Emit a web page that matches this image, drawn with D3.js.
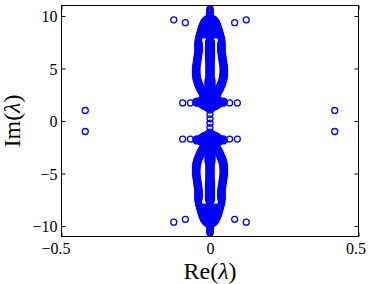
<!DOCTYPE html>
<html>
<head>
<meta charset="utf-8">
<script src="https://cdn.jsdelivr.net/npm/d3@7"></script>
<style>
  body { margin: 0; background: #fff; }
  svg text { font-family: "Liberation Serif", "DejaVu Serif", serif; fill: #000; }
</style>
</head>
<body>
<figure id="spectrum" style="margin:0"></figure>
<script>
// eigenvalues, upper right quadrant only (spectrum is symmetric in Re and Im)
// central spine, two interleaved rows
const spineAIm = [10.7, 10.5, 10.3, 10.1, 9.9, 9.7, 9.5, 9.3, 9.1, 8.9, 8.7, 8.5, 8.3, 8.1, 7.9, 7.7, 7.5, 7.3, 7.1, 6.9, 6.7, 6.5, 6.3, 6.1, 5.9, 5.7, 5.5, 5.3, 5.1, 4.9, 4.7, 4.5, 4.3, 4.1, 3.9, 3.7, 3.5, 3.3, 3.1, 2.9, 2.7, 2.5, 2.3]
const spineARe = [0, 0, 0, 0, 0, 0, 0, 0, 0, 0, 0, 0, 0, 0, 0, 0, 0.005, 0.005, 0.005, 0.005, 0.005, 0.005, 0.005, 0.005, 0.005, 0.003, 0.003, 0.003, 0.003, 0.003, 0.003, 0.003, 0.003, 0.003, 0.006, 0.006, 0.006, 0.006, 0.006, 0.006, 0.006, 0.006, 0.006]
const spineBIm = [10.6, 10.4, 10.2, 10.0, 9.8, 9.6, 9.4, 9.2, 9.0, 8.8, 8.6, 8.4, 8.2, 8.0, 7.8, 7.6, 7.4, 7.2, 7.0, 6.8, 6.6, 6.4, 6.2, 6.0, 5.8, 5.6, 5.4, 5.2, 5.0, 4.8, 4.6, 4.4, 4.2, 4.0, 3.8, 3.6, 3.4, 3.2, 3.0, 2.8, 2.6, 2.4, 2.2]
const spineBRe = [0, 0, 0, 0, 0, 0, 0, 0, 0, 0, 0, 0, 0, 0, 0, 0, 0.005, 0.005, 0.005, 0.005, 0.005, 0.005, 0.005, 0.005, 0.004, 0.003, 0.003, 0.003, 0.003, 0.003, 0.003, 0.003, 0.003, 0.004, 0.006, 0.006, 0.006, 0.006, 0.006, 0.006, 0.006, 0.006, 0.004]

// outer branch from the bulb down to the strip (outer and inner row)
const sideAIm = [9.8, 9.6, 9.4, 9.2, 9.0, 8.8, 8.6, 8.4, 8.2, 8.0, 7.8, 7.6, 7.4, 7.2, 7.0, 6.8, 6.6, 6.4, 6.2, 6.0, 5.8, 5.6, 5.4, 5.2, 5.0, 4.8, 4.6, 4.4, 4.2, 4.0, 3.8, 3.6, 3.4, 3.2, 3.0, 2.8, 2.6, 2.4, 2.2]
const sideARe = [0.006, 0.016, 0.021, 0.024, 0.027, 0.029, 0.031, 0.033, 0.035, 0.037, 0.039, 0.040, 0.041, 0.041, 0.041, 0.041, 0.041, 0.042, 0.043, 0.044, 0.045, 0.046, 0.047, 0.048, 0.049, 0.049, 0.049, 0.049, 0.048, 0.047, 0.045, 0.043, 0.040, 0.037, 0.034, 0.030, 0.026, 0.023, 0.021]
const sideBIm = [9.7, 9.5, 9.3, 9.1, 8.9, 8.7, 8.5, 8.3, 8.1, 7.9, 7.7, 7.5, 7.3, 7.1, 6.9, 6.7, 6.5, 6.3, 6.1, 5.9, 5.7, 5.5, 5.3, 5.1, 4.9, 4.7, 4.5, 4.3, 4.1, 3.9, 3.7, 3.5, 3.3, 3.1, 2.9, 2.7, 2.5, 2.3]
const sideBRe = [0.012, 0.018, 0.022, 0.025, 0.028, 0.030, 0.032, 0.034, 0.036, 0.038, 0.039, 0.038, 0.036, 0.036, 0.036, 0.036, 0.037, 0.038, 0.039, 0.040, 0.041, 0.042, 0.043, 0.044, 0.044, 0.044, 0.044, 0.043, 0.042, 0.040, 0.038, 0.035, 0.032, 0.029, 0.026, 0.023, 0.020, 0.018]

// inner fill of the bulb
const bulbIm = [9.6, 9.5, 9.4, 9.3, 9.2, 9.1, 9.0, 8.9, 8.8, 8.7, 8.6, 8.5, 8.4, 8.3, 8.2]
const bulbRe = [0.008, 0.010, 0.012, 0.013, 0.014, 0.015, 0.015, 0.016, 0.016, 0.017, 0.017, 0.018, 0.018, 0.018, 0.018]

// strip near Im ~ 1.8 and the neck across the real axis
const stripIm = [2.2, 2.2, 2.2, 2.1, 2.1, 2.1, 2.0, 2.0, 2.0, 2.0, 1.9, 1.9, 1.9, 1.9, 1.9, 1.8, 1.8, 1.8, 1.8, 1.8, 1.8, 1.7, 1.7, 1.7, 1.7, 1.7, 1.6, 1.6, 1.6, 1.6, 1.5, 1.5, 1.5, 1.4, 1.4, 1.4, 1.3, 1.3, 1.2, 1.2, 1.05, 0.63, 0.21]
const stripRe = [0, 0.01, 0.02, 0.005, 0.015, 0.025, 0, 0.01, 0.02, 0.03, 0.005, 0.015, 0.025, 0.035, 0.045, 0, 0.01, 0.02, 0.03, 0.04, 0.048, 0.005, 0.015, 0.025, 0.035, 0.044, 0, 0.01, 0.02, 0.03, 0.005, 0.015, 0.025, 0, 0.01, 0.02, 0.005, 0.012, 0, 0.006, 0, 0, 0]

// isolated eigenvalues
const looseRe = [0.42, 0.122, 0.083, 0.092, 0.066]
const looseIm = [1.0, 9.64, 9.36, 1.72, 1.72]

const xTicks = [-0.5, 0, 0.5]
const yTicks = [-10, -5, 0, 5, 10]

let margin = {top: 5.5, right: 15.5, bottom: 47.5, left: 61.5}
let W = 374, H = 284
let width = W - margin.left - margin.right
let height = H - margin.top - margin.bottom

let x = d3.scaleLinear().domain([-0.5, 0.5]).range([0, width])
let y = d3.scaleLinear().domain([-11, 11]).range([height, 0])

// build the four symmetric copies
let pts = []
function addQuad(re, im) {
  for (let i = 0; i < re.length; i++) {
    let sr = re[i] === 0 ? [1] : [1, -1]
    for (let s of sr) {
      pts.push([s * re[i], im[i]])
      pts.push([s * re[i], -im[i]])
    }
  }
}
addQuad(spineARe, spineAIm)
addQuad(spineBRe, spineBIm)
addQuad(sideARe, sideAIm)
addQuad(sideBRe, sideBIm)
addQuad(bulbRe, bulbIm)
addQuad(stripRe, stripIm)
addQuad(looseRe, looseIm)

let svg = d3.select("figure#spectrum")
  .append("svg")
  .attr("width", W)
  .attr("height", H)

let g = svg.append("g")
  .attr("transform", `translate(${margin.left},${margin.top})`)

g.append("g")
  .selectAll("circle")
  .data(pts)
  .join("circle")
    .attr("cx", d => x(d[0]))
    .attr("cy", d => y(d[1]))
    .attr("r", 3)
    .attr("fill", "none")
    .attr("stroke", "#0000ff")
    .attr("stroke-width", 1.3)

// axes, ticks pointing inwards
let yAxis = d3.axisLeft(y).tickValues(yTicks).tickSizeInner(-4).tickSizeOuter(0).tickPadding(4)
  .tickFormat(d => d < 0 ? "\u2212" + Math.abs(d) : d)
let xAxis = d3.axisBottom(x).tickValues(xTicks).tickSizeInner(-4).tickSizeOuter(0).tickPadding(6)
  .tickFormat(d => d < 0 ? "\u2212" + Math.abs(d) : d)

let gy = g.append("g").call(yAxis)
gy.selectAll("text").style("font-size", "16px").attr("dy", "0.36em")

let gx = g.append("g").attr("transform", `translate(0,${height})`).call(xAxis)
gx.selectAll("text").style("font-size", "16px")
  .attr("dx", d => d < 0 ? -6 : d > 0 ? -3 : 0)

g.append("g").attr("transform", `translate(${width},0)`)
  .call(d3.axisRight(y).tickValues(yTicks).tickSizeInner(-4).tickSizeOuter(0).tickFormat(""))
g.append("g")
  .call(d3.axisTop(x).tickValues(xTicks).tickSizeInner(-4).tickSizeOuter(0).tickFormat(""))

g.selectAll(".domain").remove()
g.selectAll(".tick line").attr("stroke", "#000")

g.append("rect")
  .attr("width", width)
  .attr("height", height)
  .attr("fill", "none")
  .attr("stroke", "#000")
  .attr("stroke-width", 1)

// axis titles
let xt = svg.append("text")
  .attr("x", margin.left + width / 2)
  .attr("y", 278.5)
  .attr("text-anchor", "middle")
  .style("font-size", "24px")
xt.append("tspan").text("Re(")
xt.append("tspan").style("font-style", "italic").text("\u03bb")
xt.append("tspan").text(")")

let yt = svg.append("text")
  .attr("transform", `translate(20,${margin.top + height / 2}) rotate(-90)`)
  .attr("text-anchor", "middle")
  .style("font-size", "24px")
yt.append("tspan").text("Im(")
yt.append("tspan").style("font-style", "italic").text("\u03bb")
yt.append("tspan").text(")")
</script>
</body>
</html>
